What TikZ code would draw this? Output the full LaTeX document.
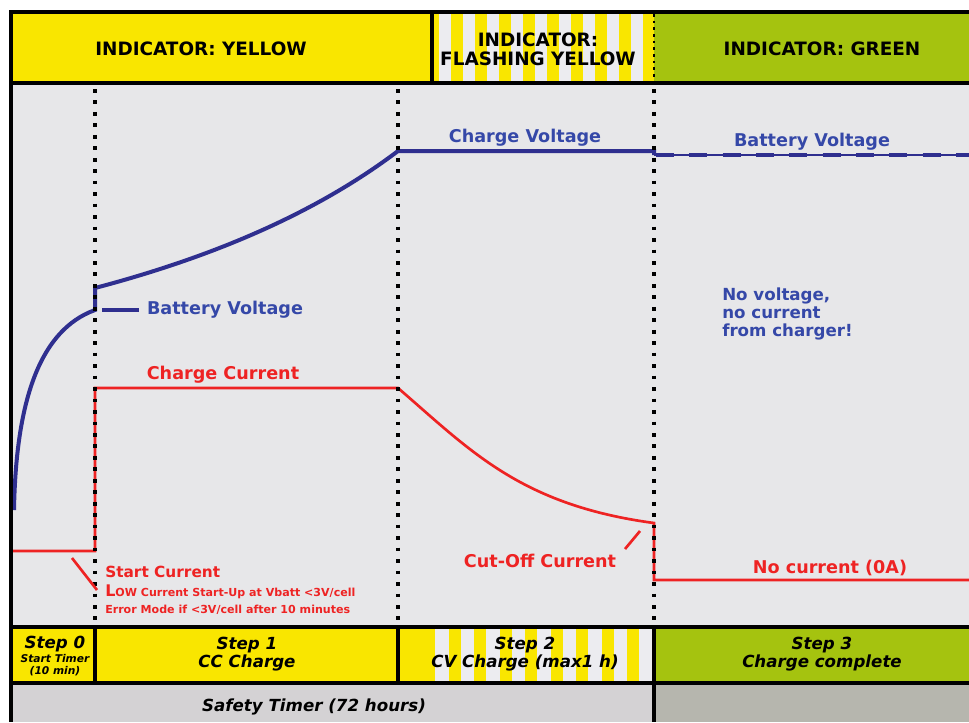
\documentclass[tikz,border=0pt]{standalone}
\usepackage{fontspec}
\setmainfont{DejaVu Sans}
\definecolor{ylw}{HTML}{F9E600}
\definecolor{grn}{HTML}{A5C30F}
\definecolor{plotbg}{HTML}{E7E7E9}
\definecolor{stripew}{HTML}{ECECF0}
\definecolor{safetyA}{HTML}{D4D2D4}
\definecolor{safetyB}{HTML}{B6B6AE}
\definecolor{blueline}{HTML}{2F2F8F}
\definecolor{bluetext}{HTML}{3548A8}
\definecolor{redc}{HTML}{EE2323}
\tikzset{
  frame/.style={line width=2.4pt,black},
  dotline/.style={black,line width=2.8pt,dash pattern=on 2.8pt off 5.8pt},
  bcurve/.style={blueline,line width=3pt},
  rcurve/.style={redc,line width=2pt},
  hdr/.style={inner sep=0pt,font=\fontsize{13.8}{14.5}\selectfont\bfseries,align=center},
  blbl/.style={inner sep=0pt,text=bluetext,font=\fontsize{13.2}{13.5}\selectfont\bfseries},
  rlbl/.style={inner sep=0pt,text=redc,font=\fontsize{13.2}{13.5}\selectfont\bfseries},
  steptxt/.style={inner sep=0pt,align=center,font=\fontsize{12.5}{12}\selectfont\bfseries\itshape},
}
\begin{document}
\begin{tikzpicture}[x=0.75pt,y=-0.75pt]
\useasboundingbox (0,0) rectangle (969,722);
\fill[white] (0,0) rectangle (969,722);
% backgrounds
\fill[plotbg] (12,83) rectangle (969,627);
\fill[ylw] (12,14) rectangle (432,83);
\fill[ylw] (432,14) rectangle (654,83);
\begin{scope}
  \clip (433,14) rectangle (652,83);
  \foreach \i in {0,...,8} \fill[stripew] ({439+24*\i},14) rectangle ({451+24*\i},83);
\end{scope}
\fill[grn] (654,14) rectangle (969,83);
\fill[ylw] (12,627) rectangle (398,683);
\fill[ylw] (398,627) rectangle (654,683);
\foreach \i in {0,...,8} \fill[stripew] ({435+25.5*\i},628) rectangle ({448.5+25.5*\i},682);
\fill[grn] (654,627) rectangle (969,683);
\fill[safetyA] (12,683) rectangle (654,722);
\fill[safetyB] (654,683) rectangle (969,722);
% curves: current
\draw[rcurve] (12,551) -- (95,551) -- (95,388) -- (398,388)
  .. controls (470,450) and (520,505) .. (654,523) -- (654,580) -- (969,580);
% curves: voltage
\draw[bcurve] (14,510) .. controls (16,400) and (40,330) .. (95,310) -- (95,288)
  .. controls (220,255) and (320,210) .. (398,151) -- (654,151) -- (654,155);
\draw[blueline,line width=1.1pt] (654,155) -- (969,155);
\draw[blueline,line width=3pt,dash pattern=on 13.5pt off 11.5pt] (656,155) -- (969,155);
% dotted step separators
\foreach \xx in {95,398,654} \draw[dotline] (\xx,89) -- (\xx,626);
% frame lines
\draw[black,line width=3.6pt] (9,12) -- (969,12);
\draw[black,line width=3pt] (11,10) -- (11,722);
\draw[frame] (12,83) -- (969,83);
\draw[frame] (432,14) -- (432,83);
\draw[black,line width=2pt,dash pattern=on 2pt off 3pt] (654,14) -- (654,83);
\draw[frame] (12,627) -- (969,627);
\draw[frame] (12,683) -- (969,683);
\foreach \xx in {95,398,654} \draw[frame] (\xx,627) -- (\xx,683);
\draw[frame] (654,683) -- (654,722);
% header texts
\node[hdr] (h1) at (201,49) {INDICATOR: YELLOW};
\node[hdr] (h2) at (538,49) {INDICATOR:\\FLASHING YELLOW};
\node[hdr] (h3) at (822,49) {INDICATOR: GREEN};
% blue labels
\node[blbl] (cv) at (525,138) {Charge Voltage};
\node[blbl] (bv2) at (812,142) {Battery Voltage};
\node[blbl] (bv1) at (225,310) {Battery Voltage};
\coordinate (bvl1) at (102,310);
\coordinate (bvl2) at (139,310);
\draw[blueline,line width=2.4pt] (bvl1) -- (bvl2);
\node[blbl,anchor=west,align=left,font=\fontsize{12.5}{13.5}\selectfont\bfseries] (nv) at (722,314) {No voltage,\\no current\\from charger!};
% red labels
\node[rlbl] (cc) at (223,375) {Charge Current};
\node[rlbl,anchor=west,font=\fontsize{11.5}{12}\selectfont\bfseries] (sc) at (105,572) {Start Current};
\node[rlbl,anchor=west,font=\fontsize{8.3}{9}\selectfont\bfseries] (low) at (105,592) {{\fontsize{12}{12}\selectfont L}OW Current Start-Up at Vbatt <3V/cell};
\node[rlbl,anchor=west,font=\fontsize{8.3}{9}\selectfont\bfseries] (err) at (105,610) {Error Mode if <3V/cell after 10 minutes};
\coordinate (scl1) at (72,558);
\coordinate (scl2) at (97,590);
\draw[redc,line width=2pt] (scl1) -- (scl2);
\node[rlbl] (co) at (540,561) {Cut-Off Current};
\coordinate (col1) at (625,549);
\coordinate (col2) at (640,531);
\draw[redc,line width=2pt] (col1) -- (col2);
\node[rlbl] (nc) at (830,568) {No current (0A)};
% step texts
\node[steptxt] (s0) at (55,644) {Step 0};
\node[steptxt,font=\fontsize{8}{8}\selectfont\bfseries\itshape] (s0a) at (55,659) {Start Timer};
\node[steptxt,font=\fontsize{8}{8}\selectfont\bfseries\itshape] (s0b) at (55,671) {(10 min)};
\node[steptxt] (s1) at (247,654) {Step 1\\CC Charge};
\node[steptxt] (s2) at (525,654) {Step 2\\CV Charge (max1 h)};
\node[steptxt] (s3) at (822,654) {Step 3\\Charge complete};
\node[steptxt] (st) at (314,707) {Safety Timer (72 hours)};
\end{tikzpicture}
\end{document}
